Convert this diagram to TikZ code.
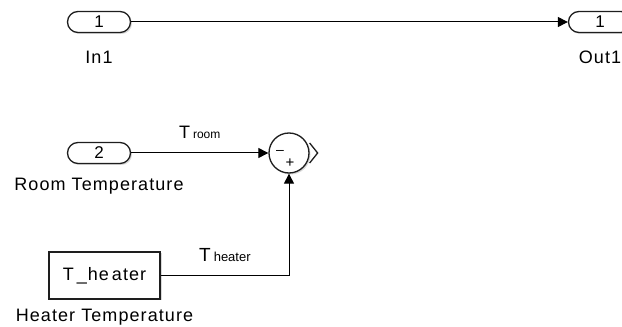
\documentclass[tikz,border=0pt]{standalone}
\usepackage{fontspec}
\setmainfont{Liberation Sans}
\usetikzlibrary{arrows.meta, positioning, shadows}
\definecolor{blockgrey}{RGB}{30, 30, 30}

\begin{document}
\begin{tikzpicture}[x=1pt, y=1pt,
    port/.style={rectangle, rounded corners=10.5pt, draw=blockgrey, fill=white, line width=1.3pt, minimum width=63pt, minimum height=21pt, inner sep=0pt, font=\fontsize{17}{20}\selectfont, drop shadow={shadow xshift=1.5pt, shadow yshift=-1.5pt, opacity=0.3}},
    block/.style={rectangle, draw=blockgrey, fill=white, line width=1.3pt, minimum width=111pt, minimum height=47pt, inner sep=0pt, font=\fontsize{18}{20}\selectfont\addfontfeatures{LetterSpace=6}, drop shadow={shadow xshift=1.5pt, shadow yshift=-1.5pt, opacity=0.3}},
    sumnode/.style={circle, draw=blockgrey, fill=white, line width=1.3pt, minimum size=40pt, inner sep=0pt, drop shadow={shadow xshift=1.5pt, shadow yshift=-1.5pt, opacity=0.3}},
    lbl/.style={font=\fontsize{18}{20}\selectfont\addfontfeatures{LetterSpace=6}, inner sep=0pt},
    sig/.style={-{Triangle[length=10pt, width=10pt]}, line width=1pt, black}
]
\useasboundingbox (0,0) rectangle (622,327);

\node (in1)  [port] at (99,305) {1};
\node (out1) [port] at (600,305) {1};
\node (in1lbl)  [lbl, below=18pt of in1] {In1};
\node (out1lbl) [lbl, below=18pt of out1] {Out1};

\node (in2) [port] at (99,174) {2};
\node (in2lbl) [lbl, below=14pt of in2] {Room Temperature};

\node (sum) [sumnode] at (289,174) {};
\node (minus) [font=\fontsize{14}{14}\selectfont, inner sep=0pt] at ([shift={(-9,1)}]sum.center) {--};
\node (plus)  [font=\fontsize{15}{15}\selectfont, inner sep=0pt] at ([shift={(1,-10)}]sum.center) {+};
\draw [line width=1.3pt, blockgrey] ([yshift=10pt]sum.east) -- ([xshift=8pt]sum.east) -- ([yshift=-10pt]sum.east);

\node (heater) [block] at (104.5,51.5) {T\,\_he\,ater};
\node (heaterlbl) [lbl, below=9pt of heater] {Heater Temperature};

\draw [sig] (in1.east) -- (out1.west);
\draw [sig] (in2.east) -- node[midway, above=14pt, font=\fontsize{18}{20}\selectfont, inner sep=0pt] {T\,{\fontsize{12}{14}\selectfont room}} (sum.west);
\draw [sig] (heater.east) -| node[pos=0.25, above=13pt, font=\fontsize{19}{20}\selectfont, inner sep=0pt] {T\,{\fontsize{13}{14}\selectfont heater}} (sum.south);

\end{tikzpicture}
\end{document}
